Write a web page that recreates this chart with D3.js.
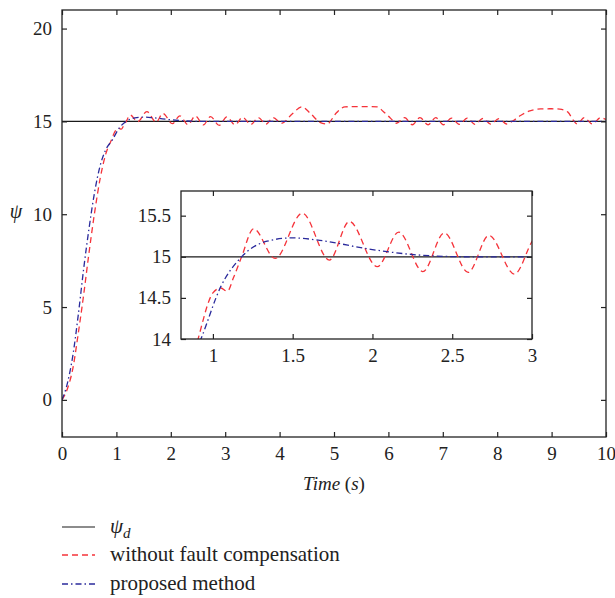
<!DOCTYPE html>
<html>
<head>
<meta charset="utf-8">
<script src="https://cdn.jsdelivr.net/npm/d3@7"></script>
<style>
  body { margin: 0; background: #fff; }
  svg text { font-family: "Liberation Serif", "DejaVu Serif", serif; fill: #222; }
</style>
</head>
<body>
<div id="d3"></div>
<script>
// desired heading (constant)
const desiredValue = 15;

// response without fault compensation: [time, psi]
const withoutComp = [
  [0, 0], [0.1, 0.6], [0.2, 1.7], [0.3, 3.6], [0.4, 5.7], [0.5, 8.0], [0.6, 10.1],
  [0.7, 11.9], [0.8, 13.2], [0.9, 13.95], [1.0, 14.56], [1.05, 14.62], [1.09, 14.58],
  [1.13, 14.75], [1.18, 15.0], [1.255, 15.34], [1.39, 14.98], [1.56, 15.53], [1.73, 14.96],
  [1.855, 15.43], [2.03, 14.88], [2.165, 15.3], [2.316, 14.82], [2.45, 15.29], [2.6, 14.81],
  [2.73, 15.26], [2.89, 14.79], [3.03, 15.24], [3.18, 14.82], [3.32, 15.22], [3.47, 14.83],
  [3.61, 15.2], [3.75, 14.85], [3.88, 15.2], [4.04, 14.9], [4.23, 15.4], [4.41, 15.78],
  [4.56, 15.45], [4.74, 14.95], [4.87, 14.86], [5.05, 15.48], [5.2, 15.78], [5.4, 15.8],
  [5.6, 15.8], [5.8, 15.78], [5.9, 15.55], [6.03, 15.2], [6.15, 14.9], [6.3, 15.2],
  [6.44, 14.82], [6.58, 15.2], [6.73, 14.82], [6.87, 15.2], [7.01, 14.82], [7.16, 15.18],
  [7.3, 14.84], [7.45, 15.18], [7.59, 14.84], [7.74, 15.16], [7.88, 14.85], [8.03, 15.15],
  [8.17, 14.86], [8.3, 15.05], [8.42, 15.3], [8.6, 15.57], [8.8, 15.67], [9.0, 15.68],
  [9.15, 15.66], [9.3, 15.5], [9.4, 15.05], [9.47, 14.86], [9.6, 15.2], [9.75, 14.86],
  [9.9, 15.2], [10, 15.1]
];

// response of the proposed method: [time, psi]
const proposed = [
  [0, 0], [0.1, 0.9], [0.2, 2.4], [0.3, 4.6], [0.4, 7.1], [0.5, 9.3], [0.6, 11.2],
  [0.7, 12.6], [0.8, 13.45], [0.925, 14.0], [1.05, 14.64], [1.18, 15.0], [1.34, 15.19],
  [1.5, 15.23], [1.67, 15.2], [1.99, 15.09], [2.3, 15.02], [2.6, 15.0], [3, 15.0], [10, 15.0]
];

const mainXTicks = [0, 1, 2, 3, 4, 5, 6, 7, 8, 9, 10];
const mainYTicks = [0, 5, 10, 15, 20];
const insetXTicks = [1, 1.5, 2, 2.5, 3];
const insetYTicks = [14, 14.5, 15, 15.5];

const legendLabels = ["ψ", "without fault compensation", "proposed method"];

const W = 615, H = 598;
const box = { left: 62, right: 606, top: 10, bottom: 437 };
const ibox = { left: 181, right: 532, top: 191, bottom: 339 };

const svg = d3.select("#d3").append("svg").attr("width", W).attr("height", H);

const styles = {
  ref: { color: "#1a1a1a", dash: null, width: 1.2 },
  red: { color: "#f5333a", dash: "6,4", width: 1.3 },
  blue: { color: "#2a2a9c", dash: "6,3,1.5,3", width: 1.3 }
};

function drawPanel(b, xDom, yDom, xt, yt, fmt, id) {
  const x = d3.scaleLinear().domain(xDom).range([b.left, b.right]);
  const y = d3.scaleLinear().domain(yDom).range([b.bottom, b.top]);

  svg.append("rect")
    .attr("x", b.left).attr("y", b.top)
    .attr("width", b.right - b.left).attr("height", b.bottom - b.top)
    .attr("fill", "#fff");

  svg.append("clipPath").attr("id", id)
    .append("rect")
    .attr("x", b.left).attr("y", b.top)
    .attr("width", b.right - b.left).attr("height", b.bottom - b.top);

  const g = svg.append("g").attr("clip-path", `url(#${id})`);
  const line = d3.line().x((d) => x(d[0])).y((d) => y(d[1])).curve(d3.curveMonotoneX);

  g.append("path")
    .attr("d", line([[xDom[0], desiredValue], [xDom[1], desiredValue]]))
    .attr("fill", "none").attr("stroke", styles.ref.color).attr("stroke-width", styles.ref.width);
  g.append("path")
    .attr("d", line(withoutComp))
    .attr("fill", "none").attr("stroke", styles.red.color)
    .attr("stroke-width", styles.red.width).attr("stroke-dasharray", styles.red.dash);
  g.append("path")
    .attr("d", line(proposed))
    .attr("fill", "none").attr("stroke", styles.blue.color)
    .attr("stroke-width", styles.blue.width).attr("stroke-dasharray", styles.blue.dash);

  // axes with inward ticks on all four sides
  const tick = 5;
  const bottom = svg.append("g").attr("transform", `translate(0,${b.bottom})`)
    .call(d3.axisBottom(x).tickValues(xt).tickSizeInner(-tick).tickSizeOuter(0).tickPadding(10).tickFormat(fmt));
  const top = svg.append("g").attr("transform", `translate(0,${b.top})`)
    .call(d3.axisTop(x).tickValues(xt).tickSizeInner(-tick).tickSizeOuter(0).tickFormat(""));
  const left = svg.append("g").attr("transform", `translate(${b.left},0)`)
    .call(d3.axisLeft(y).tickValues(yt).tickSizeInner(-tick).tickSizeOuter(0).tickPadding(10).tickFormat(fmt));
  const right = svg.append("g").attr("transform", `translate(${b.right},0)`)
    .call(d3.axisRight(y).tickValues(yt).tickSizeInner(-tick).tickSizeOuter(0).tickFormat(""));

  for (const a of [bottom, top, left, right]) {
    a.select(".domain").remove();
    a.selectAll("line").attr("stroke", "#222").attr("stroke-width", 1.2);
    a.selectAll("text").style("font-size", "19px").attr("fill", "#222")
      .style("font-family", "'Liberation Serif', serif");
  }

  svg.append("rect")
    .attr("x", b.left).attr("y", b.top)
    .attr("width", b.right - b.left).attr("height", b.bottom - b.top)
    .attr("fill", "none").attr("stroke", "#222").attr("stroke-width", 1.3);

  return { x, y };
}

drawPanel(box, [0, 10], [-2, 21], mainXTicks, mainYTicks, d3.format("d"), "clipMain");
drawPanel(ibox, [0.8, 3], [14, 15.8], insetXTicks, insetYTicks, (d) => String(d), "clipInset");

// axis titles
svg.append("text")
  .attr("x", (box.left + box.right) / 2).attr("y", 490)
  .attr("text-anchor", "middle")
  .style("font-size", "19px").style("font-style", "italic")
  .html('Time <tspan font-style="normal">(</tspan>s<tspan font-style="normal">)</tspan>');

svg.append("text")
  .attr("x", 16).attr("y", 218)
  .attr("text-anchor", "middle")
  .style("font-size", "20px").style("font-style", "italic")
  .text("ψ");

// legend
const legendY = [527, 555, 584];
const legendStyles = [styles.ref, styles.red, styles.blue];
const legend = svg.append("g");
legendLabels.forEach((label, i) => {
  const s = legendStyles[i];
  legend.append("line")
    .attr("x1", 62).attr("x2", 95).attr("y1", legendY[i]).attr("y2", legendY[i])
    .attr("stroke", s.color).attr("stroke-width", s.width)
    .attr("stroke-dasharray", s.dash);
  const t = legend.append("text")
    .attr("x", 110).attr("y", legendY[i] + 6)
    .style("font-size", "21px");
  if (i === 0) {
    t.style("font-style", "italic").text(label);
    t.append("tspan").attr("dy", 5).style("font-size", "15px").text("d");
  } else {
    t.text(label);
  }
});
</script>
</body>
</html>
